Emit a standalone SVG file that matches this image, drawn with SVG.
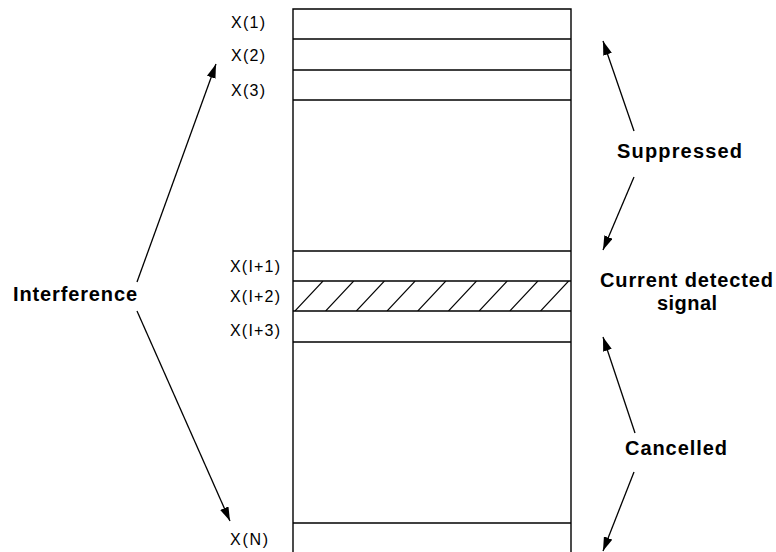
<svg xmlns="http://www.w3.org/2000/svg" width="776" height="552" viewBox="0 0 776 552">
<style>
.box{fill:none;stroke:#000;stroke-width:1.4}
.hatch{stroke:#000;stroke-width:1.1}
.conn{stroke:#000;stroke-width:1.3;fill:none}
.lbl{font-family:"Liberation Sans",Arial,sans-serif;font-size:16px;fill:#000}
.big{font-family:"Liberation Sans",Arial,sans-serif;font-size:20px;font-weight:bold;fill:#000}
</style>
<defs>
<marker id="ah" viewBox="0 0 14 9" refX="14" refY="4.5" markerWidth="14" markerHeight="9" markerUnits="userSpaceOnUse" orient="auto">
<path d="M0,0 L14,4.5 L0,9 Z" fill="#000"/>
</marker>
<clipPath id="hc"><rect x="293" y="281" width="278" height="30"/></clipPath>
</defs>
<rect width="776" height="552" fill="#fff"/>
<g id="stack">
<path class="box" d="M293,560 V9 H571 V560"/>
<line class="box" x1="293" y1="39" x2="571" y2="39"/>
<line class="box" x1="293" y1="70" x2="571" y2="70"/>
<line class="box" x1="293" y1="100" x2="571" y2="100"/>
<line class="box" x1="293" y1="251" x2="571" y2="251"/>
<line class="box" x1="293" y1="281" x2="571" y2="281"/>
<line class="box" x1="293" y1="311" x2="571" y2="311"/>
<line class="box" x1="293" y1="342" x2="571" y2="342"/>
<line class="box" x1="293" y1="523" x2="571" y2="523"/>
<g id="hatching" clip-path="url(#hc)">
<line class="hatch" x1="295" y1="311" x2="323" y2="281"/>
<line class="hatch" x1="325.7" y1="311" x2="353.7" y2="281"/>
<line class="hatch" x1="356.4" y1="311" x2="384.4" y2="281"/>
<line class="hatch" x1="387.1" y1="311" x2="415.1" y2="281"/>
<line class="hatch" x1="417.8" y1="311" x2="445.8" y2="281"/>
<line class="hatch" x1="448.5" y1="311" x2="476.5" y2="281"/>
<line class="hatch" x1="479.2" y1="311" x2="507.2" y2="281"/>
<line class="hatch" x1="509.9" y1="311" x2="537.9" y2="281"/>
<line class="hatch" x1="540.6" y1="311" x2="568.6" y2="281"/>
</g>
</g>
<g id="row-labels">
<text class="lbl" x="231" y="28" textLength="34" lengthAdjust="spacing">X(1)</text>
<text class="lbl" x="231" y="61" textLength="34" lengthAdjust="spacing">X(2)</text>
<text class="lbl" x="231" y="96" textLength="34" lengthAdjust="spacing">X(3)</text>
<text class="lbl" x="230" y="272" textLength="50" lengthAdjust="spacing">X(I+1)</text>
<text class="lbl" x="230" y="302" textLength="50" lengthAdjust="spacing">X(I+2)</text>
<text class="lbl" x="230" y="336" textLength="50" lengthAdjust="spacing">X(I+3)</text>
<text class="lbl" x="230" y="545" textLength="38" lengthAdjust="spacing">X(N)</text>
</g>
<g id="interference"><text class="big" x="13" y="301" textLength="124" lengthAdjust="spacing">Interference</text></g>
<g id="suppressed"><text class="big" x="617" y="158" textLength="125" lengthAdjust="spacing">Suppressed</text></g>
<g id="current">
<text class="big" x="600" y="287" textLength="173" lengthAdjust="spacing">Current detected</text>
<text class="big" x="657" y="310" textLength="60" lengthAdjust="spacing">signal</text>
</g>
<g id="cancelled"><text class="big" x="625" y="455" textLength="102" lengthAdjust="spacing">Cancelled</text></g>
<g id="connectors">
<line class="conn" x1="137" y1="282" x2="216" y2="64" marker-end="url(#ah)"/>
<line class="conn" x1="137" y1="311" x2="230" y2="521" marker-end="url(#ah)"/>
<line class="conn" x1="634" y1="131" x2="603" y2="41" marker-end="url(#ah)"/>
<line class="conn" x1="634" y1="177" x2="603" y2="250" marker-end="url(#ah)"/>
<line class="conn" x1="635" y1="433" x2="603" y2="337" marker-end="url(#ah)"/>
<line class="conn" x1="634" y1="472" x2="603" y2="551" marker-end="url(#ah)"/>
</g>
</svg>
